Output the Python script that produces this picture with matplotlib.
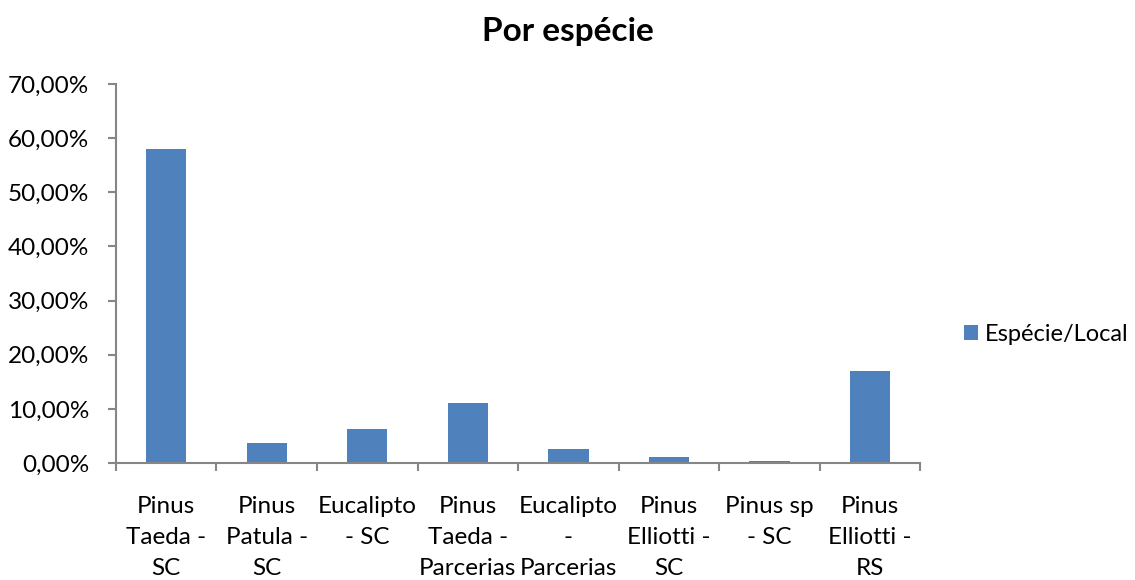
import numpy as np
import matplotlib.pyplot as plt
from matplotlib.ticker import FuncFormatter, FixedLocator

plt.rcParams['font.family'] = ['Lato', 'DejaVu Sans']

especies = ["Pinus\nTaeda -\nSC", "Pinus\nPatula -\nSC", "Eucalipto\n- SC",
            "Pinus\nTaeda -\nParcerias", "Eucalipto\n-\nParcerias",
            "Pinus\nElliotti -\nSC", "Pinus sp\n- SC", "Pinus\nElliotti -\nRS"]
percentual = [0.580, 0.037, 0.062, 0.110, 0.026, 0.012, 0.003, 0.170]

cinza = '#868686'

fig = plt.figure(figsize=(11.35, 5.8), dpi=100)
ax = fig.add_axes([0.102, 0.2017, 0.709, 0.6535])

x = np.arange(len(especies))
ax.bar(x, percentual, width=0.4, color='#4F81BD', label='Espécie/Local')

ax.set_xlim(-0.5, len(especies) - 0.5)
ax.set_ylim(0, 0.70)
ax.set_yticks(np.arange(0, 0.71, 0.10))
ax.yaxis.set_major_formatter(FuncFormatter(lambda v, p: f"{v*100:.2f}%".replace('.', ',')))

ax.set_xticks(x)
ax.set_xticklabels(especies, linespacing=1.58, va='top')
ax.xaxis.set_minor_locator(FixedLocator(np.arange(-0.5, len(especies), 1.0)))
ax.tick_params(axis='x', which='major', length=0, pad=24, labelsize=17.5)
ax.tick_params(axis='x', which='minor', length=6, width=1.5, color=cinza)
ax.tick_params(axis='y', length=6, width=1.5, color=cinza, labelsize=17.5, pad=13)

for s in ['top', 'right']:
    ax.spines[s].set_visible(False)
for s in ['left', 'bottom']:
    ax.spines[s].set_color(cinza)
    ax.spines[s].set_linewidth(1.5)

fig.suptitle('Por espécie', x=0.5, y=0.945, va='center', fontsize=24, fontweight='bold')

fig.legend(loc='center left', bbox_to_anchor=(0.849, 0.423), frameon=False,
           fontsize=17, handlelength=0.6, handleheight=0.6, handletextpad=0.3,
           borderpad=0, borderaxespad=0)

fig.savefig('out.png', dpi=100)
